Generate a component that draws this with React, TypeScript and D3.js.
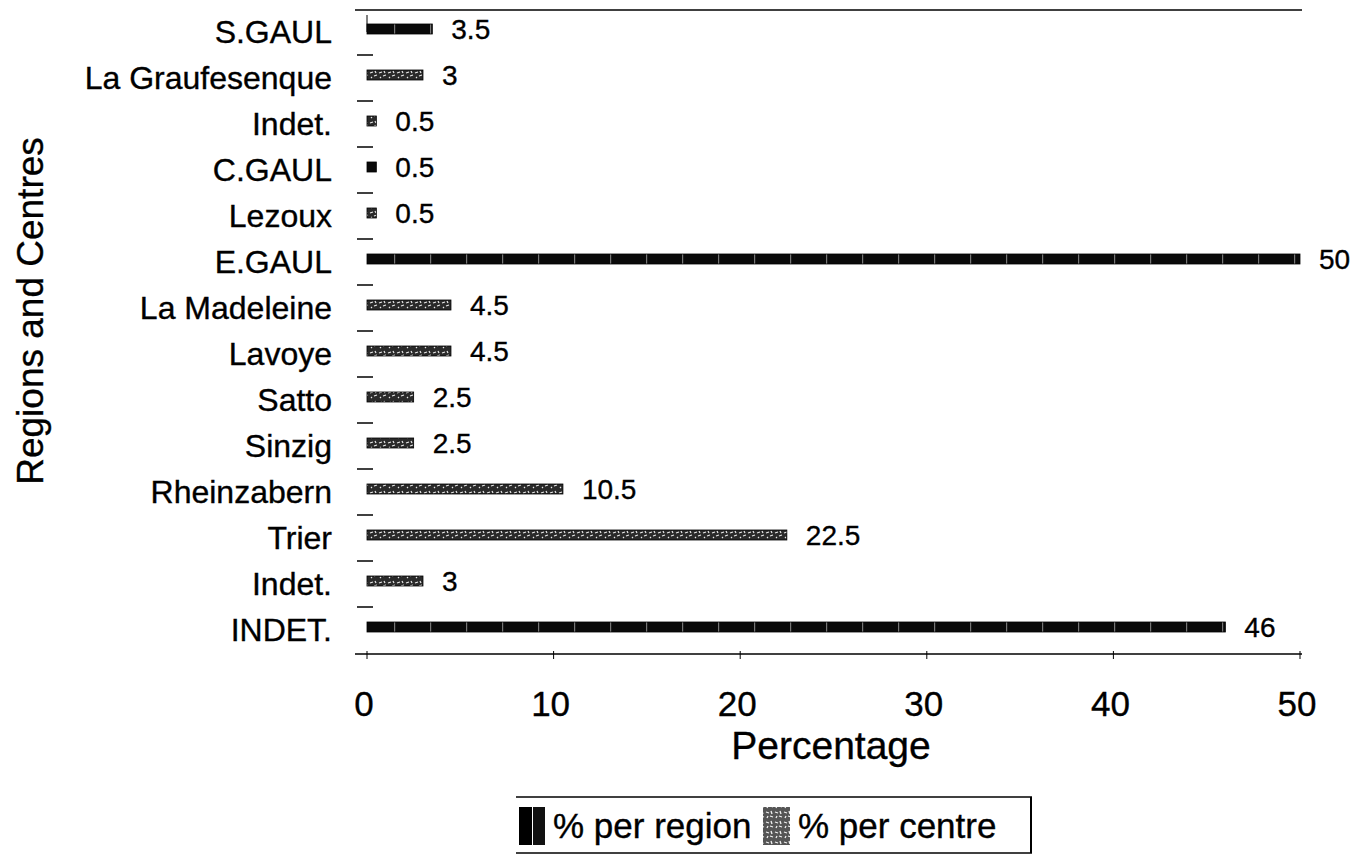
import React from "react";
import * as d3 from "d3";

const categories = ["S.GAUL", "La Graufesenque", "Indet.", "C.GAUL", "Lezoux", "E.GAUL", "La Madeleine", "Lavoye", "Satto", "Sinzig", "Rheinzabern", "Trier", "Indet.", "INDET."];
const values = [3.5, 3, 0.5, 0.5, 0.5, 50, 4.5, 4.5, 2.5, 2.5, 10.5, 22.5, 3, 46];
const seriesType = ["region", "centre", "centre", "region", "centre", "region", "centre", "centre", "centre", "centre", "centre", "centre", "centre", "region"];
const xTicks = [0, 10, 20, 30, 40, 50];
const legendLabels = ["% per region", "% per centre"];

const FONT = "'Liberation Sans', Arial, sans-serif";
const TS = { fontFamily: FONT, fill: "#000", stroke: "#000", strokeWidth: 0.35 };

export default function App() {
  const W = 1361, H = 864;
  const left = 367, right = 1300, top = 10, bottom = 654;
  const x = d3.scaleLinear().domain([0, 50]).range([left, right]);
  const idx = categories.map((_, i) => i);
  const y = d3.scaleBand<number>().domain(idx).range([top, bottom]).paddingInner(0).paddingOuter(0);
  const barH = 10;
  const shift = -4;

  return (
    <svg width={W} height={H} style={{ position: "absolute", left: 0, top: 0, background: "#fff" }}>
      <defs>
        <pattern id="hatch" width="9" height="10" patternUnits="userSpaceOnUse">
          <rect width="9" height="10" fill="#2a2a2a" />
          <path d="M1 3 L4 2 M5 6 L8 5 M2 7 L3 8 M6 1 L7 3" stroke="#e8e8e8" strokeWidth="1.2" />
        </pattern>
        <pattern id="seg" width="36" height="10" patternUnits="userSpaceOnUse">
          <rect width="36" height="10" fill="#0a0a0a" />
          <rect x="34" width="1.2" height="10" fill="#777" />
        </pattern>
        <pattern id="hatchL" width="9" height="10" patternUnits="userSpaceOnUse">
          <rect width="9" height="10" fill="#555" />
          <path d="M1 2 L4 3 M5 6 L8 7 M2 8 L3 6 M6 1 L7 4" stroke="#f0f0f0" strokeWidth="1.3" />
        </pattern>
      </defs>

      {/* frame lines */}
      <line x1={355} x2={1302} y1={top} y2={top} stroke="#000" strokeWidth={1.5} />
      <line x1={355} x2={1302} y1={bottom} y2={bottom} stroke="#000" strokeWidth={1.5} />
      <line x1={left} x2={left} y1={top + 5} y2={top + 22} stroke="#000" strokeWidth={1} />
      {xTicks.map((t) => (
        <line key={"xt" + t} x1={x(t)} x2={x(t)} y1={bottom - 3} y2={bottom + 5} stroke="#000" strokeWidth={1} />
      ))}

      {/* left ticks between categories */}
      {idx.slice(1).map((i) => (
        <line key={"yt" + i} x1={357} x2={373} y1={y(i)! - 1} y2={y(i)! - 1} stroke="#000" strokeWidth={1.5} />
      ))}

      {/* bars */}
      {idx.map((i) => {
        const yc = y(i)! + y.bandwidth() / 2 + shift;
        const v = values[i];
        const w = x(v) - x(0);
        return (
          <g key={"b" + i}>
            <rect x={x(0)} y={yc - barH / 2} width={w} height={barH}
              fill={seriesType[i] === "region" ? "url(#seg)" : "url(#hatch)"}
              stroke="#000" strokeWidth={0.8} />
            <text x={x(v) + 19} y={yc} dy="0.36em" fontSize={28} {...TS}>{v}</text>
            <text x={332} y={yc + 2} dy="0.36em" textAnchor="end" fontSize={32} {...TS}>{categories[i]}</text>
          </g>
        );
      })}

      {/* x tick labels */}
      {xTicks.map((t) => (
        <text key={"xl" + t} x={x(t) - 3} y={716} textAnchor="middle" fontSize={35} {...TS}>{t}</text>
      ))}
      <text x={831} y={759} textAnchor="middle" fontSize={39} {...TS}>Percentage</text>
      <text transform="translate(43,311) rotate(-90)" textAnchor="middle" fontSize={37} {...TS}>Regions and Centres</text>

      {/* legend */}
      <g>
        <line x1={516} x2={1032} y1={797} y2={797} stroke="#000" strokeWidth={1.5} />
        <line x1={516} x2={1032} y1={853} y2={853} stroke="#000" strokeWidth={1.5} />
        <line x1={1031} x2={1031} y1={797} y2={853} stroke="#000" strokeWidth={2} />
        <rect x={519} y={807} width={13} height={38} fill="#000" />
        <rect x={533} y={807} width={12} height={38} fill="#111" />
        <text x={553} y={838} fontSize={35} {...TS}>{legendLabels[0]}</text>
        <rect x={763} y={807} width={27} height={38} fill="url(#hatchL)" />
        <text x={798} y={838} fontSize={35} {...TS}>{legendLabels[1]}</text>
      </g>
    </svg>
  );
}
